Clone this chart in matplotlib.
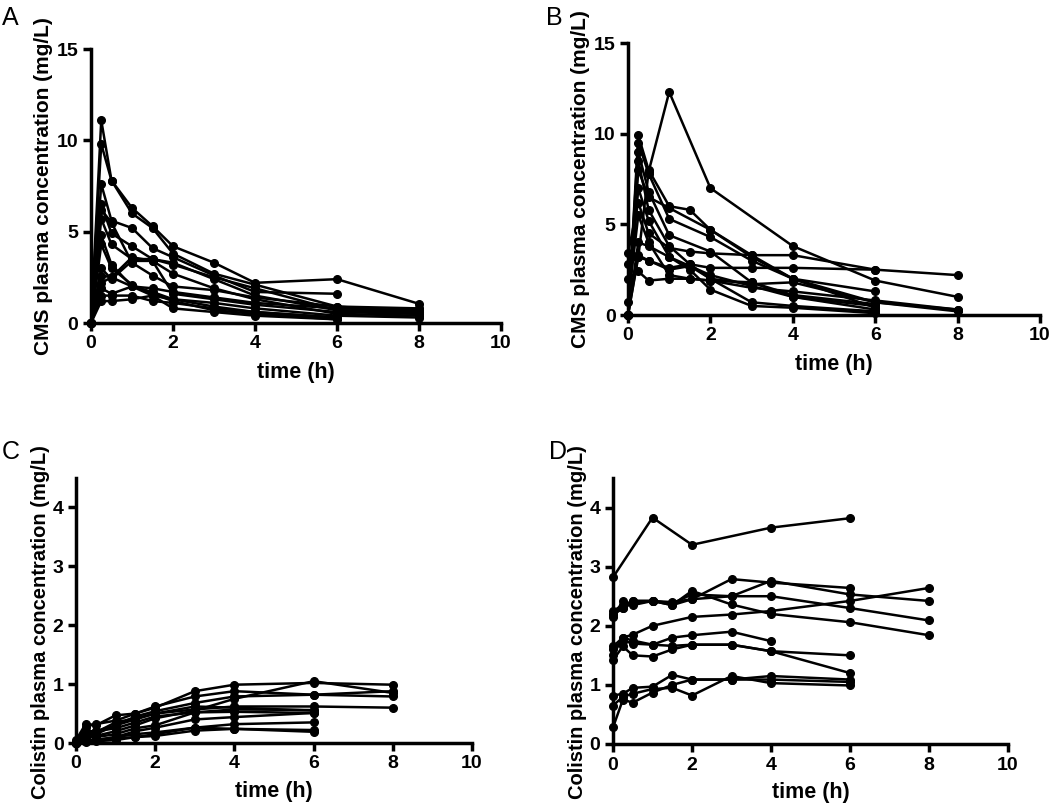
import numpy as np
import matplotlib
matplotlib.use("Agg")
import matplotlib.pyplot as plt

plt.rcParams["font.family"] = ["Liberation Sans", "DejaVu Sans"]
plt.rcParams["font.weight"] = "bold"

nan = np.nan

# sampling times (h)
t_cms = [0, 0.25, 0.5, 1, 1.5, 2, 3, 4, 6, 8]
t_col = [0, 0.25, 0.5, 1, 1.5, 2, 3, 4, 6, 8]

# Panel A: CMS plasma concentration (mg/L), one row per patient
cms_a = [
    [0, 11.1, 7.8, 6.3, 5.3, 4.2, 3.3, 2.2, 2.4, 1.05],
    [0, 9.8, 7.8, 6.0, 5.2, 3.8, 2.7, 2.1, 0.9, 0.8],
    [0, 7.6, 5.6, 5.2, 4.1, 3.6, 2.6, 1.7, 1.6, nan],
    [0, 6.5, 4.9, 4.2, 3.5, 3.3, 2.4, 1.5, 0.7, 0.6],
    [0, 5.7, 4.3, 3.5, 3.5, 3.2, 2.5, 1.9, 0.7, 0.5],
    [0, 4.8, 3.2, 2.0, 1.7, 1.3, 0.9, 0.6, 0.3, nan],
    [0, 3.0, 2.4, 3.4, 3.4, 2.7, 1.9, 1.3, 0.5, 0.4],
    [0, 2.6, 2.5, 2.0, 1.5, 0.8, 0.6, 0.4, 0.2, nan],
    [0, 1.9, 1.6, 2.0, 1.9, 1.7, 1.4, 1.1, 0.8, 0.7],
    [0, 1.5, 1.5, 1.5, 1.2, 1.1, 0.8, 0.6, 0.3, nan],
    [0, 1.2, 1.2, 1.3, 1.5, 1.3, 1.1, 0.8, 0.4, 0.3],
    [0, 4.3, 3.0, 2.1, 1.6, 1.2, 0.7, 0.5, 0.2, nan],
    [0, 2.2, 2.5, 3.6, 3.4, 1.6, 1.3, 1.0, 0.6, 0.5],
    [0, 6.2, 5.5, 3.3, 2.6, 2.0, 1.8, 1.4, 0.9, 0.6],
]

# Panel B: CMS plasma concentration (mg/L)
cms_b = [
    [0, 3.2, 7.9, 12.3, nan, 7.0, nan, 3.8, 1.9, 1.0],
    [0, 9.9, 8.0, 6.0, 5.8, 4.7, 3.3, 2.0, 0.7, 0.3],
    [0, 9.5, 7.8, 5.3, nan, 4.3, 3.0, 2.0, 1.3, nan],
    [0, 9.0, 6.8, 4.4, nan, 3.5, 1.8, 1.0, 0.3, nan],
    [0, 8.5, 5.8, 3.8, 2.8, 2.0, 0.7, 0.5, 0.2, nan],
    [0, 7.0, 5.2, 3.2, 2.5, 1.4, 0.5, 0.4, 0.1, nan],
    [3.4, 6.2, 4.5, 3.7, 3.5, 3.4, 3.3, 3.3, 2.5, 2.2],
    [2.8, 3.2, 3.0, 2.6, 2.8, 2.6, 2.6, 2.6, 2.5, nan],
    [2.0, 2.4, 1.9, 2.0, 2.0, 1.9, 1.5, 1.3, 0.8, 0.3],
    [0.7, 5.5, 4.0, 2.2, 2.0, 1.9, 1.8, 1.1, 0.6, nan],
    [0, 4.0, 3.8, 3.2, 2.7, 2.2, 1.6, 1.0, 0.5, nan],
    [0, 3.3, 3.0, 2.5, 2.7, 2.0, 1.7, 1.8, 0.7, 0.2],
    [0, 8.0, 6.5, 5.9, nan, 4.7, 3.2, 2.0, 0.4, nan],
]

# Panel C: colistin plasma concentration (mg/L)
col_c = [
    [0.05, 0.33, 0.30, 0.47, 0.50, 0.60, 0.88, 0.99, 1.02, 0.99],
    [0, 0.28, 0.32, 0.38, 0.50, 0.62, 0.79, 0.88, 0.82, 0.88],
    [0, 0.10, 0.15, 0.30, 0.45, 0.54, 0.68, 0.79, 0.82, 0.79],
    [0, 0.10, 0.12, 0.20, 0.30, 0.42, 0.55, 0.75, 1.05, 0.85],
    [0, 0.20, 0.20, 0.30, 0.40, 0.50, 0.57, 0.62, 0.62, 0.60],
    [0, 0.15, 0.20, 0.25, 0.35, 0.45, 0.52, 0.57, 0.56, nan],
    [0, 0.10, 0.10, 0.15, 0.25, 0.30, 0.52, 0.53, 0.51, nan],
    [0, 0.05, 0.05, 0.10, 0.20, 0.26, 0.40, 0.44, 0.51, nan],
    [0, 0.05, 0.05, 0.10, 0.15, 0.18, 0.26, 0.32, 0.35, nan],
    [0, 0.02, 0.03, 0.05, 0.10, 0.12, 0.21, 0.24, 0.19, nan],
    [0, 0.05, 0.05, 0.08, 0.10, 0.15, 0.26, 0.24, 0.22, nan],
    [0, 0.12, 0.18, 0.35, 0.42, 0.50, 0.62, 0.60, 0.55, nan],
]

# Panel D: colistin plasma concentration (mg/L)
col_d = [
    [2.82, nan, nan, 3.83, nan, 3.37, nan, 3.66, 3.82, nan],
    [2.20, 2.30, 2.42, 2.42, 2.35, 2.45, 2.79, 2.73, 2.64, nan],
    [2.15, 2.42, 2.35, 2.42, 2.38, 2.53, 2.50, 2.76, 2.53, 2.42],
    [2.25, 2.35, 2.42, 2.42, 2.40, 2.45, 2.50, 2.50, 2.30, 2.09],
    [2.18, 2.30, 2.38, 2.42, 2.35, 2.59, 2.36, 2.20, 2.06, 1.84],
    [1.50, 1.80, 1.85, 2.00, nan, 2.15, 2.19, 2.25, 2.42, 2.64],
    [1.65, 1.80, 1.75, 1.68, 1.80, 1.84, 1.90, 1.74, nan, nan],
    [1.60, 1.75, 1.70, 1.68, 1.66, 1.68, 1.68, 1.57, 1.50, nan],
    [1.42, 1.65, 1.50, 1.48, 1.60, 1.68, 1.68, 1.57, 1.20, nan],
    [0.82, 0.85, 0.95, 0.97, 1.17, 1.09, 1.09, 1.09, 1.05, nan],
    [0.65, 0.80, 0.85, 0.93, 0.95, 0.82, 1.15, 1.03, 0.99, nan],
    [0.28, 0.75, 0.70, 0.87, 1.00, 1.09, 1.09, 1.15, 1.09, nan],
]

W, H = 1050, 808
fig = plt.figure(figsize=(W / 100, H / 100), dpi=100)


def px_axes(left, right, bottom, top):
    return fig.add_axes([left / W, 1 - bottom / H, (right - left) / W, (bottom - top) / H])


def draw(ax, times, rows, ymax, yticks, ylabel, ylab_x, ylab_y, ylab_size):
    t = np.asarray(times, dtype=float)
    for row in rows:
        v = np.asarray(row, dtype=float)
        m = np.isfinite(v)
        ax.plot(t[m], v[m], "-o", color="black", lw=1.8, ms=5.5, clip_on=False, zorder=3)
    ax.set_xlim(0, 10)
    ax.set_ylim(0, ymax)
    ax.set_xticks([0, 2, 4, 6, 8, 10])
    ax.set_yticks(yticks)
    for s in ["top", "right"]:
        ax.spines[s].set_visible(False)
    for s in ["bottom", "left"]:
        ax.spines[s].set_linewidth(2.5)
    ax.tick_params(width=2.5, length=6, labelsize=14, pad=3)
    for lab in ax.get_xticklabels() + ax.get_yticklabels():
        lab.set_fontweight("bold")
    ax.set_xlabel("time (h)", fontsize=15.5, fontweight="bold")
    ax.set_ylabel(ylabel, fontsize=ylab_size, fontweight="bold")
    ax.xaxis.set_label_coords(0.5, -0.142)
    ax.yaxis.set_label_coords(ylab_x, ylab_y)


axA = px_axes(91, 501, 323, 49)
draw(axA, t_cms, cms_a, 15, [0, 5, 10, 15], "CMS plasma concentration (mg/L)", -0.093, 0.5, 15)
axB = px_axes(628, 1040, 315, 43)
draw(axB, t_cms, cms_b, 15, [0, 5, 10, 15], "CMS plasma concentration (mg/L)", -0.092, 0.5, 15)
axC = px_axes(76, 472, 743, 478)
draw(axC, t_col, col_c, 4.5, [0, 1, 2, 3, 4], "Colistin plasma concentration (mg/L)", -0.066, 0.457, 14.5)
axD = px_axes(613, 1008, 744, 478)
draw(axD, t_col, col_d, 4.5, [0, 1, 2, 3, 4], "Colistin plasma concentration (mg/L)", -0.066, 0.457, 14.5)

for letter, x, y in [("A", 2, 6), ("B", 546, 6), ("C", 2, 440), ("D", 549, 440)]:
    fig.text(x / W, 1 - y / H, letter, fontsize=18, fontweight="normal", va="top", ha="left")

fig.savefig("out.png", dpi=100)
